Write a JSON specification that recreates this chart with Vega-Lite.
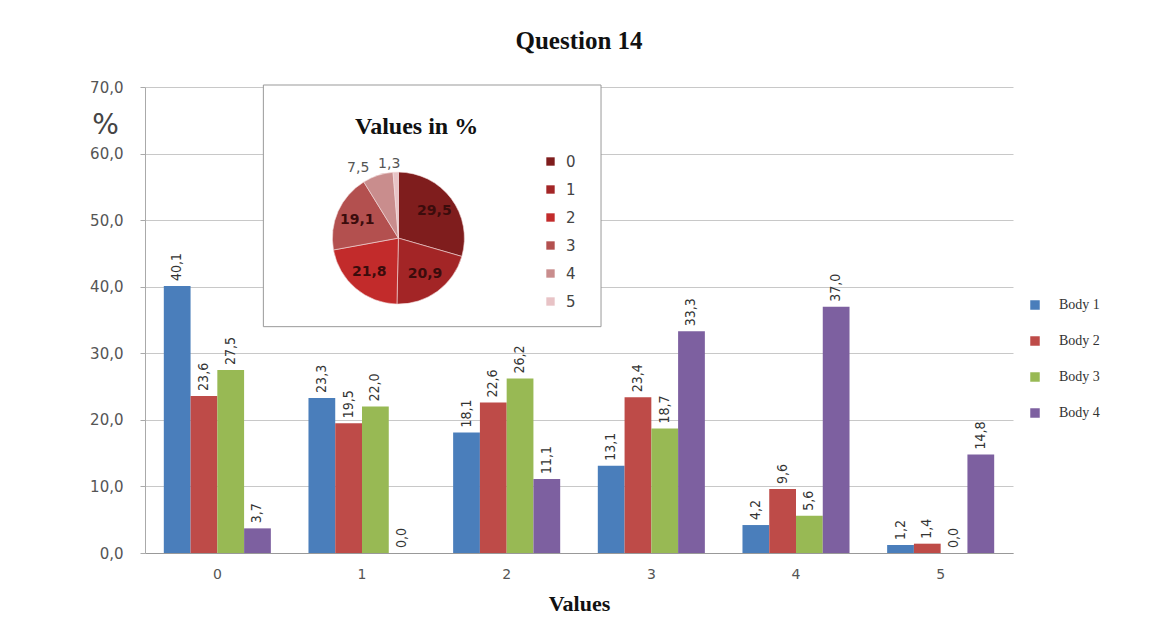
{
  "$schema": "https://vega.github.io/schema/vega-lite/v6.json",
  "autosize": {"type": "none"},
  "padding": {"left": 145, "top": 87, "right": 136, "bottom": 74},
  "width": 868,
  "height": 466,
  "background": "white",
  "config": {
    "locale": {"number": {"decimal": ",", "thousands": ".", "grouping": [3], "currency": ["", " €"]}},
    "view": {"stroke": null},
    "title": {"font": "Liberation Serif", "fontSize": 25, "fontWeight": "bold", "color": "#111", "offset": 26}
  },
  "title": "Question 14",
  "datasets": {
    "bars": [
      {"cat": "0", "series": "Body 1", "value": 40.1},
      {"cat": "0", "series": "Body 2", "value": 23.6},
      {"cat": "0", "series": "Body 3", "value": 27.5},
      {"cat": "0", "series": "Body 4", "value": 3.7},
      {"cat": "1", "series": "Body 1", "value": 23.3},
      {"cat": "1", "series": "Body 2", "value": 19.5},
      {"cat": "1", "series": "Body 3", "value": 22.0},
      {"cat": "1", "series": "Body 4", "value": 0.0},
      {"cat": "2", "series": "Body 1", "value": 18.1},
      {"cat": "2", "series": "Body 2", "value": 22.6},
      {"cat": "2", "series": "Body 3", "value": 26.2},
      {"cat": "2", "series": "Body 4", "value": 11.1},
      {"cat": "3", "series": "Body 1", "value": 13.1},
      {"cat": "3", "series": "Body 2", "value": 23.4},
      {"cat": "3", "series": "Body 3", "value": 18.7},
      {"cat": "3", "series": "Body 4", "value": 33.3},
      {"cat": "4", "series": "Body 1", "value": 4.2},
      {"cat": "4", "series": "Body 2", "value": 9.6},
      {"cat": "4", "series": "Body 3", "value": 5.6},
      {"cat": "4", "series": "Body 4", "value": 37.0},
      {"cat": "5", "series": "Body 1", "value": 1.2},
      {"cat": "5", "series": "Body 2", "value": 1.4},
      {"cat": "5", "series": "Body 3", "value": 0.0},
      {"cat": "5", "series": "Body 4", "value": 14.8}
    ],
    "pie": [
      {"k": "0", "pct": 29.5},
      {"k": "1", "pct": 20.9},
      {"k": "2", "pct": 21.8},
      {"k": "3", "pct": 19.1},
      {"k": "4", "pct": 7.5},
      {"k": "5", "pct": 1.3}
    ],
    "one": [{"label": "Values in %"}]
  },
  "layer": [
    {
      "data": {"name": "bars"},
      "mark": {"type": "bar"},
      "encoding": {
        "x": {
          "field": "cat", "type": "nominal",
          "scale": {"domain": ["0", "1", "2", "3", "4", "5"], "paddingInner": 0.26, "paddingOuter": 0.13},
          "axis": {"title": "Values", "titleFont": "Liberation Serif", "titleFontSize": 22, "titleFontWeight": "bold", "titleColor": "#111", "titlePadding": 12,
                   "labelAngle": 0, "labelFont": "DejaVu Sans", "labelFontSize": 14, "labelColor": "#555", "labelPadding": 14,
                   "ticks": false, "domainColor": "#999"}
        },
        "y": {
          "field": "value", "type": "quantitative",
          "scale": {"domain": [0, 70], "nice": false},
          "axis": {"title": "%", "titleAngle": 0, "titleX": -40, "titleY": 38, "titleAlign": "center", "titleBaseline": "middle",
                   "titleFont": "DejaVu Sans", "titleFontSize": 28, "titleFontWeight": "normal", "titleColor": "#444",
                   "values": [0, 10, 20, 30, 40, 50, 60, 70], "format": ".1f",
                   "labelFont": "DejaVu Sans", "labelFontSize": 15, "labelColor": "#555", "labelPadding": 17,
                   "tickSize": 5, "tickColor": "#aaa", "domainColor": "#aaa", "gridColor": "#c8c8c8"}
        },
        "xOffset": {"field": "series", "type": "nominal", "scale": {"domain": ["Body 1", "Body 2", "Body 3", "Body 4"]}},
        "color": {
          "field": "series", "type": "nominal",
          "scale": {"domain": ["Body 1", "Body 2", "Body 3", "Body 4"], "range": ["#4A7EBB", "#BE4B48", "#98B954", "#7D60A0"]},
          "legend": {"orient": "none", "legendX": 883, "legendY": 211, "title": null, "symbolType": "square", "symbolSize": 90,
                     "symbolStrokeWidth": 0, "rowPadding": 22, "labelFont": "Liberation Serif", "labelFontSize": 14, "labelColor": "#333", "labelOffset": 17}
        }
      }
    },
    {
      "data": {"name": "bars"},
      "mark": {"type": "text", "angle": 270, "align": "left", "baseline": "middle", "dx": 5, "font": "DejaVu Sans Condensed", "fontSize": 14, "color": "#333"},
      "encoding": {
        "x": {"field": "cat", "type": "nominal"},
        "y": {"field": "value", "type": "quantitative"},
        "xOffset": {"field": "series", "type": "nominal", "scale": {"domain": ["Body 1", "Body 2", "Body 3", "Body 4"]}},
        "text": {"field": "value", "type": "quantitative", "format": ".1f"}
      }
    },
    {
      "data": {"name": "one"},
      "mark": {"type": "rect", "fill": "white", "stroke": "#999", "strokeWidth": 1},
      "encoding": {
        "x": {"datum": "0", "type": "nominal", "bandPosition": 0.93},
        "x2": {"datum": "3", "bandPosition": 0.03},
        "y": {"datum": 34, "type": "quantitative"},
        "y2": {"datum": 70.3}
      }
    },
    {
      "data": {"name": "one"},
      "mark": {"type": "text", "font": "Liberation Serif", "fontSize": 24, "fontWeight": "bold", "color": "#111", "align": "center", "baseline": "middle"},
      "encoding": {
        "x": {"datum": "1", "type": "nominal", "bandPosition": 1.01},
        "y": {"datum": 64, "type": "quantitative"},
        "text": {"field": "label", "type": "nominal"}
      }
    },
    {
      "data": {"name": "pie"},
      "mark": {"type": "arc", "outerRadius": 66, "stroke": "#f3dede", "strokeWidth": 0.6},
      "encoding": {
        "x": {"datum": "1", "type": "nominal", "bandPosition": 0.84},
        "y": {"datum": 47.3, "type": "quantitative"},
        "theta": {"field": "pct", "type": "quantitative", "stack": true},
        "order": {"field": "k", "type": "ordinal"},
        "color": {
          "field": "k", "type": "nominal",
          "scale": {"domain": ["0", "1", "2", "3", "4", "5"], "range": ["#7f1d1d", "#a32526", "#c22b2b", "#b3504f", "#c98d8d", "#e8c3c6"]},
          "legend": {"orient": "none", "legendX": 398, "legendY": 67, "title": null, "symbolType": "square", "symbolSize": 70,
                     "symbolStrokeWidth": 0, "rowPadding": 12, "labelFont": "DejaVu Sans", "labelFontSize": 15, "labelColor": "#444", "labelOffset": 8}
        }
      }
    },
    {
      "data": {"name": "pie"},
      "mark": {"type": "text", "radius": 45, "font": "DejaVu Sans", "fontSize": 14, "fontWeight": "bold", "color": "#3b0c0c"},
      "encoding": {
        "x": {"datum": "1", "type": "nominal", "bandPosition": 0.84},
        "y": {"datum": 47.3, "type": "quantitative"},
        "theta": {"field": "pct", "type": "quantitative", "stack": true},
        "order": {"field": "k", "type": "ordinal"},
        "text": {"condition": {"test": "datum.pct >= 10", "field": "pct", "type": "quantitative", "format": ".1f"}, "value": ""}
      }
    },
    {
      "data": {"name": "pie"},
      "mark": {"type": "text", "radius": 74, "align": "right", "dx": -6, "font": "DejaVu Sans", "fontSize": 14, "color": "#555"},
      "encoding": {
        "x": {"datum": "1", "type": "nominal", "bandPosition": 0.84},
        "y": {"datum": 47.3, "type": "quantitative"},
        "theta": {"field": "pct", "type": "quantitative", "stack": true},
        "order": {"field": "k", "type": "ordinal"},
        "text": {"condition": {"test": "datum.k == '4'", "field": "pct", "type": "quantitative", "format": ".1f"}, "value": ""}
      }
    },
    {
      "data": {"name": "pie"},
      "mark": {"type": "text", "radius": 74, "align": "right", "dx": 5, "font": "DejaVu Sans", "fontSize": 14, "color": "#555"},
      "encoding": {
        "x": {"datum": "1", "type": "nominal", "bandPosition": 0.84},
        "y": {"datum": 47.3, "type": "quantitative"},
        "theta": {"field": "pct", "type": "quantitative", "stack": true},
        "order": {"field": "k", "type": "ordinal"},
        "text": {"condition": {"test": "datum.k == '5'", "field": "pct", "type": "quantitative", "format": ".1f"}, "value": ""}
      }
    }
  ],
  "resolve": {"scale": {"color": "independent"}, "legend": {"color": "independent"}}
}
